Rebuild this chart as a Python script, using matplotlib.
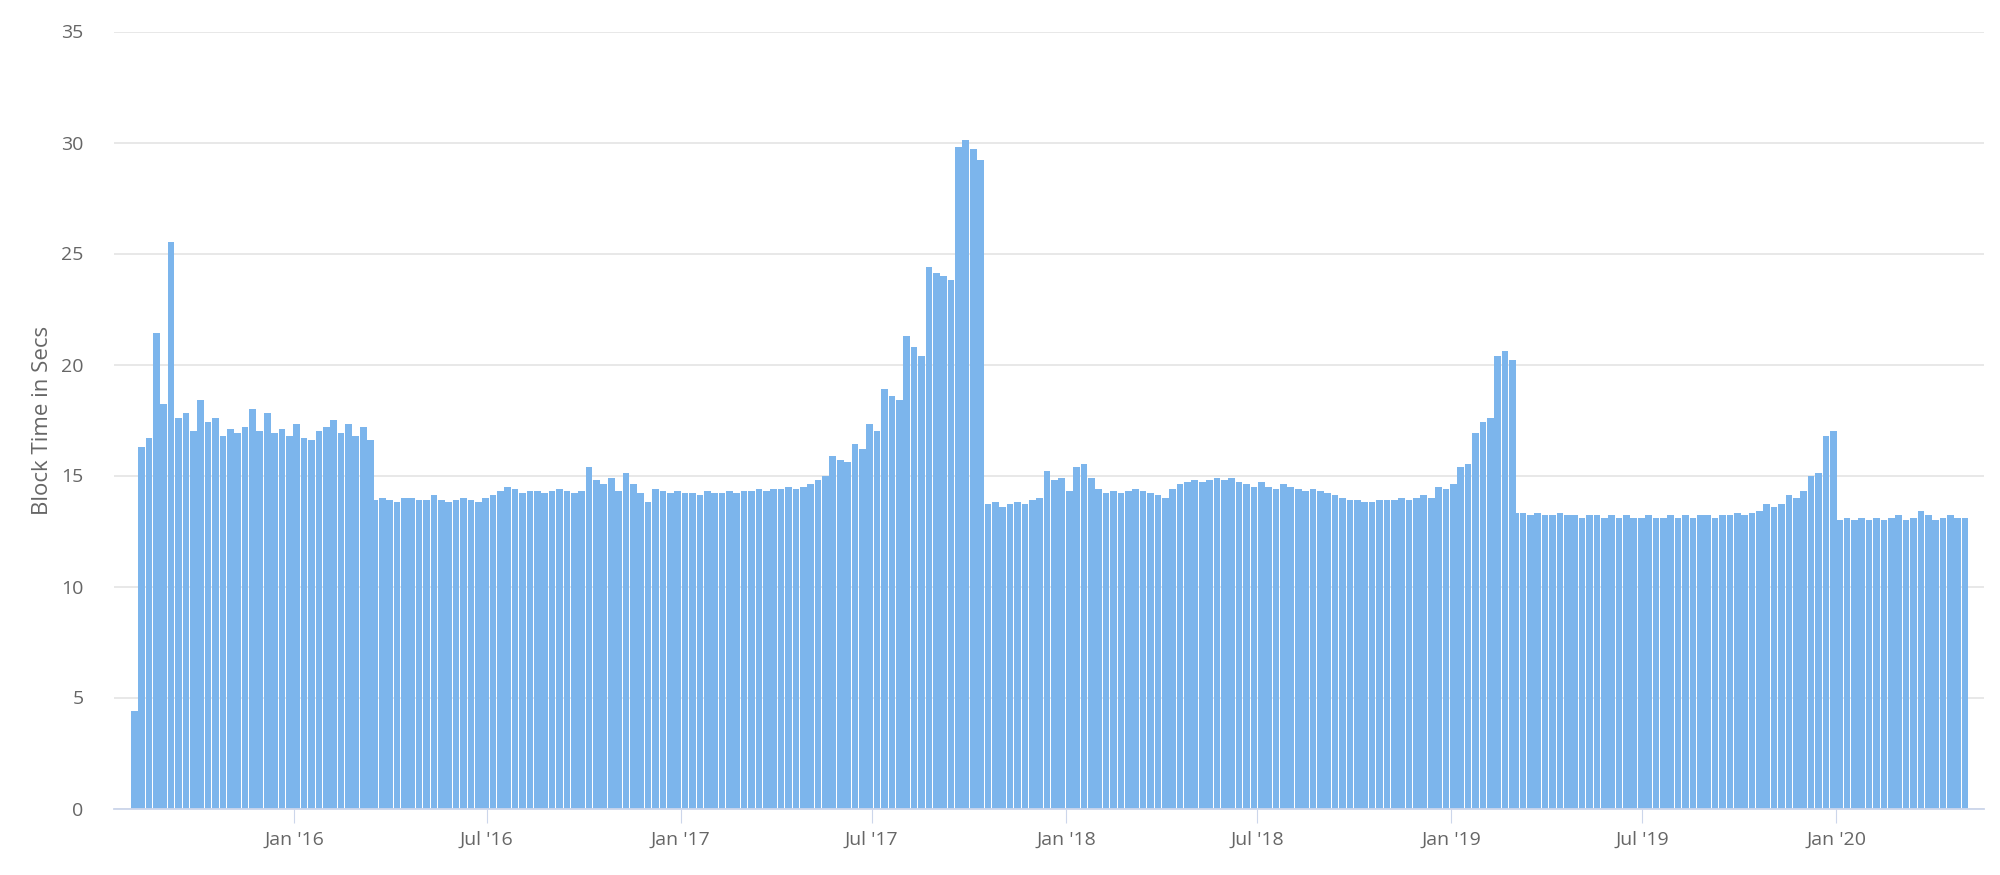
#
# Ethereum average block time, weekly bars
#

import numpy as np
import pandas as pd
import matplotlib.pyplot as plt
import matplotlib.dates as mdates

# eras between the difficulty-bomb resets, weekly values (secs)
eraStarts = ['2015-07-30', '2016-03-14', '2017-10-16', '2019-02-28', '2020-01-01']

era1 = [4.4, 16.3, 16.7, 21.4, 18.2, 25.5, 17.6, 17.8, 17.0, 18.4, 17.4, 17.6, 16.8,
        17.1, 16.9, 17.2, 18.0, 17.0, 17.8, 16.9, 17.1, 16.8, 17.3, 16.7, 16.6, 17.0,
        17.2, 17.5, 16.9, 17.3, 16.8, 17.2, 16.6]
era2 = [13.9, 14.0, 13.9, 13.8, 14.0, 14.0, 13.9, 13.9, 14.1, 13.9, 13.8, 13.9, 14.0,
        13.9, 13.8, 14.0,
        14.1, 14.3, 14.5, 14.4, 14.2, 14.3, 14.3, 14.2, 14.3, 14.4, 14.3, 14.2, 14.3,
        15.4, 14.8, 14.6, 14.9, 14.3, 15.1, 14.6, 14.2,
        13.8, 14.4, 14.3, 14.2, 14.3,
        14.2, 14.2, 14.1, 14.3, 14.2, 14.2, 14.3, 14.2, 14.3, 14.3, 14.4, 14.3, 14.4,
        14.4, 14.5, 14.4, 14.5,
        14.6, 14.8, 15.0, 15.9, 15.7, 15.6, 16.4, 16.2, 17.3, 17.0, 18.9, 18.6, 18.4,
        21.3, 20.8, 20.4, 24.4, 24.1, 24.0, 23.8, 29.8, 30.1, 29.7, 29.2]
era3 = [13.7, 13.8, 13.6, 13.7, 13.8, 13.7, 13.9, 14.0,
        15.2, 14.8, 14.9, 14.3, 15.4, 15.5, 14.9, 14.4,
        14.2, 14.3, 14.2, 14.3, 14.4, 14.3, 14.2, 14.1, 14.0,
        14.4, 14.6, 14.7, 14.8, 14.7, 14.8, 14.9, 14.8, 14.9, 14.7, 14.6, 14.5, 14.7,
        14.5, 14.4, 14.6, 14.5, 14.4, 14.3, 14.4, 14.3, 14.2, 14.1, 14.0, 13.9, 13.9,
        13.8, 13.8, 13.9, 13.9, 13.9, 14.0, 13.9, 14.0, 14.1, 14.0, 14.5, 14.4, 14.6,
        15.4, 15.5, 16.9, 17.4, 17.6, 20.4, 20.6, 20.2]
era4 = [13.3, 13.3, 13.2, 13.3, 13.2, 13.2, 13.3, 13.2, 13.2, 13.1, 13.2, 13.2, 13.1,
        13.2, 13.1, 13.2, 13.1, 13.1, 13.2, 13.1, 13.1, 13.2, 13.1, 13.2, 13.1, 13.2,
        13.2, 13.1, 13.2, 13.2, 13.3, 13.2,
        13.3, 13.4, 13.7, 13.6, 13.7, 14.1, 14.0, 14.3, 15.0, 15.1, 16.8, 17.0]
era5 = [13.0, 13.1, 13.0, 13.1, 13.0, 13.1, 13.0, 13.1, 13.2, 13.0, 13.1, 13.4,
        13.2, 13.0, 13.1, 13.2, 13.1, 13.1]
eras = [era1, era2, era3, era4, era5]

yTicks = [0, 5, 10, 15, 20, 25, 30, 35]
xTickDates = ['2016-01-01', '2016-07-01', '2017-01-01', '2017-07-01', '2018-01-01',
              '2018-07-01', '2019-01-01', '2019-07-01', '2020-01-01']
xTickLabels = ["Jan '16", "Jul '16", "Jan '17", "Jul '17", "Jan '18",
               "Jul '18", "Jan '19", "Jul '19", "Jan '20"]

barColor = '#7cb5ec'
textColor = '#666666'

plt.rcParams['font.family'] = ['Open Sans', 'DejaVu Sans']

fig = plt.figure(figsize=[20, 8.75], dpi=100, facecolor='white')
ax = fig.add_axes([0.057, 0.076, 0.935, 0.888])

for start, vals in zip(eraStarts, eras):
  dates = pd.date_range(start=start, periods=len(vals), freq='7D')
  ax.bar(dates, vals, width=6.3, align='edge', color=barColor, linewidth=0)

ax.set_xlim(pd.Timestamp('2015-07-14'), pd.Timestamp('2020-05-20'))
ax.set_ylim(0, 35)
ax.set_yticks(yTicks)
ax.set_xticks(pd.to_datetime(xTickDates))
ax.set_xticklabels(xTickLabels)
ax.grid(axis='y', color='#e6e6e6', linewidth=1.3)
ax.set_axisbelow(True)
for side in ['top', 'left', 'right']:
  ax.spines[side].set_visible(False)
ax.spines['bottom'].set_color('#ccd6eb')
ax.spines['bottom'].set_linewidth(1.3)
ax.tick_params(axis='y', length=0, colors=textColor, labelsize=14, pad=22)
ax.tick_params(axis='x', length=10, color='#ccd6eb', colors=textColor, labelsize=14, pad=6)
ax.set_ylabel('Block Time in Secs', color=textColor, fontsize=16, labelpad=6)

plt.savefig('out.png', dpi=100, facecolor='white')
